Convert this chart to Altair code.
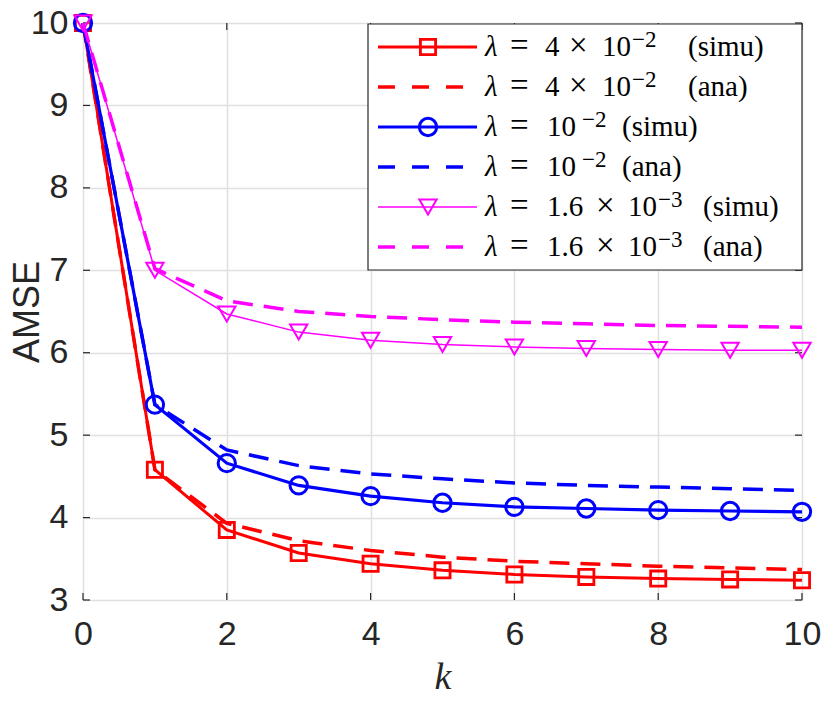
import altair as alt
import pandas as pd

k = list(range(0, 11))
red_simu = [10, 4.58, 3.85, 3.57, 3.44, 3.36, 3.31, 3.28, 3.26, 3.25, 3.24]
red_ana = [10, 4.58, 3.93, 3.72, 3.60, 3.52, 3.47, 3.44, 3.41, 3.39, 3.37]
blue_simu = [10, 5.37, 4.66, 4.39, 4.26, 4.18, 4.13, 4.11, 4.09, 4.08, 4.07]
blue_ana = [10, 5.37, 4.82, 4.63, 4.53, 4.47, 4.42, 4.39, 4.37, 4.35, 4.33]
mag_simu = [10, 7.00, 6.47, 6.25, 6.15, 6.10, 6.07, 6.05, 6.04, 6.03, 6.03]
mag_ana = [10, 7.02, 6.63, 6.50, 6.44, 6.40, 6.37, 6.35, 6.33, 6.32, 6.31]

# legend labels split into math tokens (text, superscript?) for LaTeX-like spacing
label_tokens = [
    [("λ", 0), ("=", 0), ("4", 0), ("×", 0), ("10", 0), ("−2", 1), ("(simu)", 0)],
    [("λ", 0), ("=", 0), ("4", 0), ("×", 0), ("10", 0), ("−2", 1), ("(ana)", 0)],
    [("λ", 0), ("=", 0), ("10", 0), ("−2", 1), ("(simu)", 0)],
    [("λ", 0), ("=", 0), ("10", 0), ("−2", 1), ("(ana)", 0)],
    [("λ", 0), ("=", 0), ("1.6", 0), ("×", 0), ("10", 0), ("−3", 1), ("(simu)", 0)],
    [("λ", 0), ("=", 0), ("1.6", 0), ("×", 0), ("10", 0), ("−3", 1), ("(ana)", 0)],
]
# horizontal token offsets inside the legend (pixels)
token_x = [
    [402, 427, 462, 486, 519, 549, 605],
    [402, 427, 462, 486, 519, 549, 605],
    [402, 427, 464, 499, 539],
    [402, 427, 464, 499, 539],
    [402, 427, 464, 513, 545, 575, 620],
    [402, 427, 464, 513, 545, 575, 620],
]
x_ticks = [0, 2, 4, 6, 8, 10]
y_ticks = [3, 4, 5, 6, 7, 8, 9, 10]

W, H = 719, 577
RED, BLUE, MAG = "#ff0000", "#0000ff", "#ff00ff"
DASH = [20, 11]
LEG_DASH = [17, 17]

series = [
    (red_simu, RED, 3.0, None, "square", 230, 2.8),
    (red_ana, RED, 3.5, DASH, None, 0, 0),
    (blue_simu, BLUE, 3.2, None, "circle", 300, 3.0),
    (blue_ana, BLUE, 3.5, DASH, None, 0, 0),
    (mag_simu, MAG, 1.5, None, "triangle-down", 300, 2.0),
    (mag_ana, MAG, 3.5, DASH, None, 0, 0),
]

xs = alt.Scale(domain=[0, 10], nice=False)
ys = alt.Scale(domain=[3, 10], nice=False)

x_axis = alt.Axis(values=x_ticks, format="d", grid=True, ticks=False, domain=False,
                  labelFlush=False, labelFont="Liberation Sans", labelFontSize=34,
                  labelColor="#262626", labelPadding=17, gridColor="#e0e0e0", gridWidth=1.5,
                  title="k", titleFont="Liberation Serif", titleFontStyle="italic",
                  titleFontWeight="normal", titleFontSize=38, titleColor="#262626",
                  titlePadding=7)
y_axis = alt.Axis(values=y_ticks, format="d", grid=True, ticks=False, domain=False,
                  labelFlush=False, labelFont="Liberation Sans", labelFontSize=34,
                  labelColor="#262626", labelPadding=15, gridColor="#e0e0e0", gridWidth=1.5,
                  title="AMSE", titleFont="Liberation Sans", titleFontWeight="normal",
                  titleFontSize=36, titleColor="#262626", titleX=-56, titleY=H / 2,
                  titleBaseline="middle", titleAngle=270)

layers = []
base_df = pd.DataFrame({"k": k, "v": red_simu})
layers.append(alt.Chart(base_df).mark_line(opacity=0).encode(
    x=alt.X("k:Q", scale=xs, axis=x_axis),
    y=alt.Y("v:Q", scale=ys, axis=y_axis)))

# inside tick marks on all four sides
tdf_x = pd.DataFrame({"t": x_ticks})
tdf_y = pd.DataFrame({"t": y_ticks})
layers.append(alt.Chart(tdf_x).mark_rule(color="#262626", strokeWidth=1.2).encode(
    x=alt.X("t:Q", scale=xs), y=alt.value(H), y2=alt.value(H - 7)))
layers.append(alt.Chart(tdf_x).mark_rule(color="#262626", strokeWidth=1.2).encode(
    x=alt.X("t:Q", scale=xs), y=alt.value(0), y2=alt.value(7)))
layers.append(alt.Chart(tdf_y).mark_rule(color="#262626", strokeWidth=1.2).encode(
    y=alt.Y("t:Q", scale=ys), x=alt.value(0), x2=alt.value(7)))
layers.append(alt.Chart(tdf_y).mark_rule(color="#262626", strokeWidth=1.2).encode(
    y=alt.Y("t:Q", scale=ys), x=alt.value(W), x2=alt.value(W - 7)))

for vals, col, sw, dash, shape, size, msw in series:
    df = pd.DataFrame({"k": k, "v": vals})
    kw = dict(color=col, strokeWidth=sw)
    if dash:
        kw["strokeDash"] = dash
    layers.append(alt.Chart(df).mark_line(**kw).encode(
        x=alt.X("k:Q", scale=xs), y=alt.Y("v:Q", scale=ys)))
    if shape:
        layers.append(alt.Chart(df).mark_point(
            shape=shape, filled=False, color=col, size=size,
            strokeWidth=msw, opacity=1).encode(
            x=alt.X("k:Q", scale=xs), y=alt.Y("v:Q", scale=ys)))

# legend
one = pd.DataFrame({"a": [0]})
layers.append(alt.Chart(one).mark_rect(fill="white", stroke="#262626", strokeWidth=1.2).encode(
    x=alt.value(285), x2=alt.value(W), y=alt.value(1), y2=alt.value(247)))
for i, (toks, txs, (vals, col, sw, dash, shape, size, msw)) in enumerate(zip(label_tokens, token_x, series)):
    yy = 24 + 40 * i
    kw = dict(color=col, strokeWidth=sw)
    if dash:
        kw["strokeDash"] = LEG_DASH
    layers.append(alt.Chart(one).mark_rule(**kw).encode(
        x=alt.value(295), x2=alt.value(394), y=alt.value(yy)))
    if shape:
        layers.append(alt.Chart(one).mark_point(
            shape=shape, filled=False, color=col, size=size,
            strokeWidth=msw, opacity=1).encode(
            x=alt.value(345), y=alt.value(yy)))
    for (t, sup), tx in zip(toks, txs):
        italic = t == "λ"
        fs = 23 if sup else (33 if t in ("=", "×") else 29)
        layers.append(alt.Chart(pd.DataFrame({"t": [t]})).mark_text(
            align="left", baseline="alphabetic", font="Liberation Serif",
            fontSize=fs, fontStyle="italic" if italic else "normal",
            color="black").encode(
            x=alt.value(tx), y=alt.value(yy + (0 if sup else 9)), text="t:N"))

chart = alt.layer(*layers).properties(
    width=W, height=H,
    autosize=alt.AutoSizeParams(type="none"),
    padding={"left": 75, "top": 15, "right": 20, "bottom": 92},
).configure_view(stroke="#262626", strokeWidth=1.2).configure(background="white")

chart.save("out.html", embed_options={"renderer": "svg", "actions": False})
